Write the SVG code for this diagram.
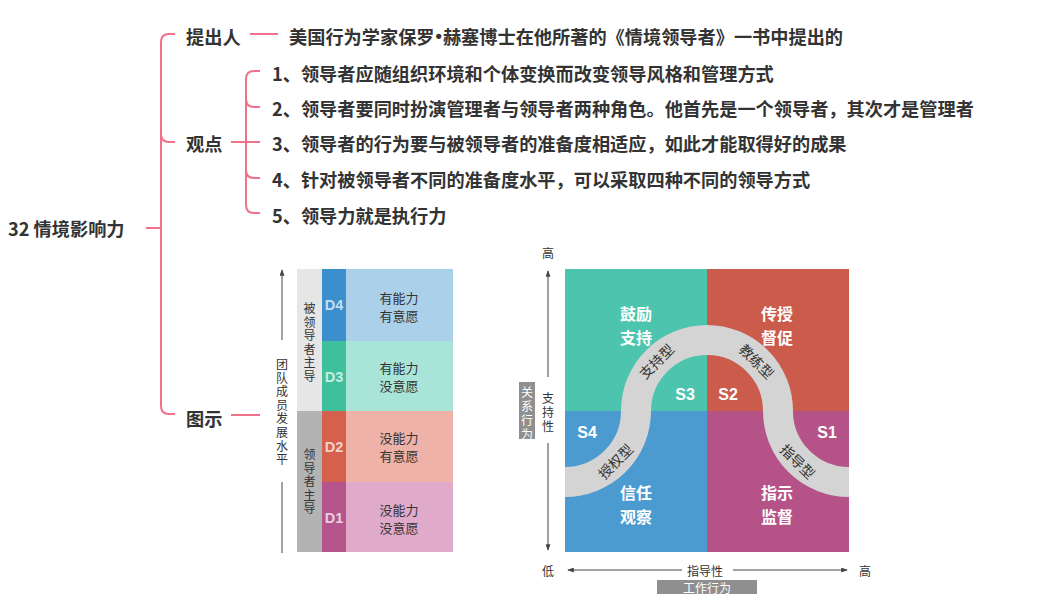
<svg xmlns="http://www.w3.org/2000/svg" width="1059" height="603" viewBox="0 0 1059 603">
<defs>
<style>
.t{font-family:"Noto Sans CJK SC","Noto Sans",sans-serif;fill:#333;dominant-baseline:central}
.mm{font-size:18.2px;font-weight:bold}
.bul{font-family:"Liberation Sans",Arial,sans-serif}
.s12{font-size:12px;text-anchor:middle}
.s13{font-size:13px;text-anchor:middle}
.q{font-size:16px;font-weight:bold;fill:#fff;text-anchor:middle}
.band{font-size:14px;text-anchor:middle}
.w{fill:#fff}
.S{font-family:"Liberation Sans",Arial,sans-serif;font-size:16px;font-weight:bold;fill:#fff;text-anchor:middle;dominant-baseline:central}
.D{font-family:"Liberation Sans",Arial,sans-serif;font-size:14.5px;font-weight:bold;fill:#fff;fill-opacity:0.72;text-anchor:middle;dominant-baseline:central}
.conn{fill:none;stroke:#f0718a;stroke-width:2}
.ax{fill:none;stroke:#444;stroke-width:1}
</style>
<marker id="ah" viewBox="0 0 8 6" refX="7" refY="3" markerWidth="7" markerHeight="5" markerUnits="userSpaceOnUse" orient="auto-start-reverse"><path d="M0,0L8,3L0,6z" fill="#444"/></marker>
</defs>
<rect width="1059" height="603" fill="#fff"/>

<g id="connectors">
<path class="conn" d="M146 228H161"/>
<path class="conn" d="M175 34H169Q161 34 161 42V406Q161 414 169 414H175"/>
<path class="conn" d="M161 134Q161 142 169 142H175"/>
<path class="conn" d="M250 34H278"/>
<path class="conn" d="M231 142H246"/>
<path class="conn" d="M260 71H254Q246 71 246 79V205Q246 213 254 213H260"/>
<path class="conn" d="M246 99Q246 107 254 107H260"/>
<path class="conn" d="M246 142H260"/>
<path class="conn" d="M246 170Q246 178 254 178H260"/>
<path class="conn" d="M231 415H260"/>
</g>

<g id="root"><text class="t mm" x="8" y="228">32 情境影响力</text></g>
<g id="n-tichuren"><text class="t mm" x="186" y="36">提出人</text></g>
<g id="n-tichuren-desc"><text class="t mm" x="289" y="36">美国行为学家保罗<tspan class="bul" dx="1">•</tspan><tspan dx="1">赫塞博士在他所著的《情境领导者》一书中提出的</tspan></text></g>
<g id="n-guandian"><text class="t mm" x="186" y="143">观点</text></g>
<g id="n-item1"><text class="t mm" x="272" y="73">1、领导者应随组织环境和个体变换而改变领导风格和管理方式</text></g>
<g id="n-item2"><text class="t mm" x="272" y="108">2、领导者要同时扮演管理者与领导者两种角色。他首先是一个领导者，其次才是管理者</text></g>
<g id="n-item3"><text class="t mm" x="272" y="143">3、领导者的行为要与被领导者的准备度相适应，如此才能取得好的成果</text></g>
<g id="n-item4"><text class="t mm" x="272" y="179">4、针对被领导者不同的准备度水平，可以采取四种不同的领导方式</text></g>
<g id="n-item5"><text class="t mm" x="272" y="215">5、领导力就是执行力</text></g>
<g id="n-tushi"><text class="t mm" x="186" y="418">图示</text></g>

<g id="chart-d">
<path class="ax" d="M282 553V482"/>
<path class="ax" d="M282 340V270" marker-end="url(#ah)"/>
<text class="t s12"><tspan x="282" y="363">团</tspan><tspan x="282" y="376.6">队</tspan><tspan x="282" y="390.2">成</tspan><tspan x="282" y="403.8">员</tspan><tspan x="282" y="417.4">发</tspan><tspan x="282" y="431">展</tspan><tspan x="282" y="444.6">水</tspan><tspan x="282" y="458.2">平</tspan></text>
<rect x="297" y="269" width="25" height="142" fill="#e6e6e6"/>
<rect x="297" y="411" width="25" height="141" fill="#b3b3b3"/>
<text class="t s12"><tspan x="309.5" y="307">被</tspan><tspan x="309.5" y="320.6">领</tspan><tspan x="309.5" y="334.2">导</tspan><tspan x="309.5" y="347.8">者</tspan><tspan x="309.5" y="361.4">主</tspan><tspan x="309.5" y="375">导</tspan></text>
<text class="t s12"><tspan x="309.5" y="453">领</tspan><tspan x="309.5" y="466.6">导</tspan><tspan x="309.5" y="480.2">者</tspan><tspan x="309.5" y="493.8">主</tspan><tspan x="309.5" y="507.4">导</tspan></text>
<rect x="322" y="269" width="24" height="72" fill="#3a8fcc"/>
<rect x="322" y="341" width="24" height="70" fill="#3fbf9c"/>
<rect x="322" y="411" width="24" height="71" fill="#d4604d"/>
<rect x="322" y="482" width="24" height="70" fill="#b5558b"/>
<rect x="346" y="269" width="107" height="72" fill="#aad0ea"/>
<rect x="346" y="341" width="107" height="70" fill="#a8e5d8"/>
<rect x="346" y="411" width="107" height="71" fill="#eeb2a8"/>
<rect x="346" y="482" width="107" height="70" fill="#e0aacb"/>
<text class="D" x="334" y="305">D4</text>
<text class="D" x="334" y="377">D3</text>
<text class="D" x="334" y="447">D2</text>
<text class="D" x="334" y="518">D1</text>
<text class="t s13"><tspan x="399" y="297">有能力</tspan><tspan x="399" y="315">有意愿</tspan></text>
<text class="t s13"><tspan x="399" y="367">有能力</tspan><tspan x="399" y="385">没意愿</tspan></text>
<text class="t s13"><tspan x="399" y="437">没能力</tspan><tspan x="399" y="455">有意愿</tspan></text>
<text class="t s13"><tspan x="399" y="509">没能力</tspan><tspan x="399" y="527">没意愿</tspan></text>
</g>

<g id="chart-s">
<rect x="565" y="269" width="142" height="142" fill="#4dc4ad"/>
<rect x="707" y="269" width="142" height="142" fill="#cb5b4b"/>
<rect x="565" y="411" width="142" height="141" fill="#4b9bd0"/>
<rect x="707" y="411" width="142" height="141" fill="#b55288"/>
<path d="M565 482A71 71 0 0 0 636 411A71 71 0 0 1 778 411A71 71 0 0 0 849 482" fill="none" stroke="#d4d4d4" stroke-width="30"/>
<text class="t band" transform="translate(656 361) rotate(-45)">支持型</text>
<text class="t band" transform="translate(757 361) rotate(45)">教练型</text>
<text class="t band" transform="translate(615 461) rotate(-45)">授权型</text>
<text class="t band" transform="translate(798 461) rotate(45)">指导型</text>
<text class="t q"><tspan x="636" y="313">鼓励</tspan><tspan x="636" y="337">支持</tspan></text>
<text class="t q"><tspan x="777" y="313">传授</tspan><tspan x="777" y="337">督促</tspan></text>
<text class="t q"><tspan x="636" y="492">信任</tspan><tspan x="636" y="516">观察</tspan></text>
<text class="t q"><tspan x="777" y="492">指示</tspan><tspan x="777" y="516">监督</tspan></text>
<text class="S" x="685" y="394">S3</text>
<text class="S" x="728" y="394">S2</text>
<text class="S" x="587" y="432">S4</text>
<text class="S" x="827" y="432">S1</text>
</g>

<g id="axes">
<text class="t s12" x="548" y="252">高</text>
<path class="ax" d="M548 377V271" marker-end="url(#ah)"/>
<rect x="519" y="382" width="16" height="57" fill="#8f8f8f"/>
<text class="t s12 w"><tspan x="527" y="391">关</tspan><tspan x="527" y="405">系</tspan><tspan x="527" y="419">行</tspan><tspan x="527" y="433">为</tspan></text>
<text class="t s12"><tspan x="548" y="397">支</tspan><tspan x="548" y="411">持</tspan><tspan x="548" y="425">性</tspan></text>
<path class="ax" d="M548 443V550" marker-end="url(#ah)"/>
<text class="t s12" x="548" y="570">低</text>
<path class="ax" d="M682 570H568" marker-end="url(#ah)"/>
<text class="t s12" x="705" y="570">指导性</text>
<path class="ax" d="M733 570H847" marker-end="url(#ah)"/>
<text class="t s12" x="865" y="570">高</text>
<rect x="657" y="580" width="100" height="14" fill="#8f8f8f"/>
<text class="t s12 w" x="707" y="587">工作行为</text>
</g>
</svg>
